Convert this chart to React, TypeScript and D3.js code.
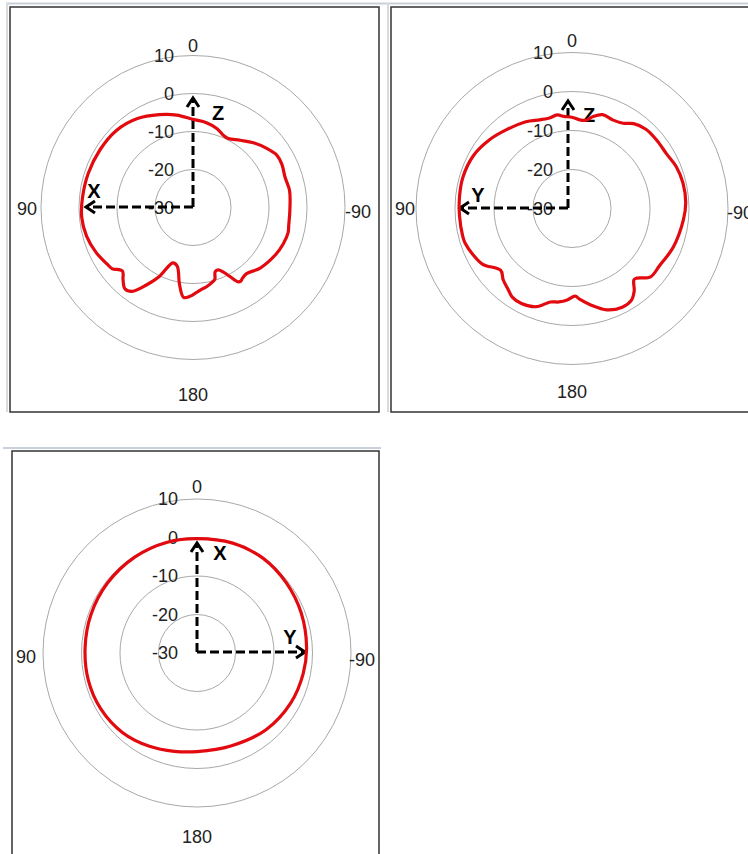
import React from 'react';
import * as d3 from 'd3';

// ---- data ----
const ringTicks = [-30, -20, -10, 0, 10];
const angleLabels = ['0', '90', '180', '-90'];

// Panel 1: XZ plane (angle deg, counter-clockwise from top; gain dB)
const anglesXZ = [0, 10, 20, 32, 45, 58, 72, 85, 95, 105, 115, 124, 127, 132, 136, 140, 144, 149, 154, 160, 165, 170, 174, 178, 185, 190, 195, 197, 199, 202, 205, 208, 211, 213, 215, 219, 228, 240, 248, 255, 260, 268, 280, 288, 296, 302, 309, 317, 325, 333, 337, 343, 351];
const gainXZ = [-6.8, -5.3, -4.0, -2.4, -1.4, -1.2, -1.0, -0.8, -0.6, -1.0, -1.9, -3.0, -3.3, -5.0, -3.5, -2.1, -2.7, -6.2, -9.8, -14.5, -14.0, -9.5, -6.2, -6.6, -8.2, -8.9, -9.8, -10.3, -12.1, -12.3, -11.3, -9.5, -7.2, -6.9, -7.3, -7.6, -6.2, -5.0, -4.4, -4.1, -4.4, -4.5, -4.2, -4.5, -4.0, -4.0, -5.2, -6.7, -8.4, -9.6, -9.4, -8.3, -7.4];

// Panel 2: YZ plane
const anglesYZ = [0, 5, 9, 14, 20, 28, 40, 50, 62, 74, 84, 94, 104, 108, 115, 122, 131, 136, 142, 146, 152, 160, 167, 172, 177, 182, 185, 191, 199, 207, 213, 217, 221, 223, 229, 237, 249, 264, 273, 283, 292, 300, 309, 317, 324, 329, 335, 342, 347, 351, 355];
const gainYZ = [-6.6, -6.3, -5.7, -6.1, -5.8, -4.8, -3.7, -2.5, -1.3, -0.9, -1.0, -1.1, -1.1, -1.2, -2.0, -3.0, -5.8, -4.6, -3.5, -2.6, -2.4, -3.2, -5.4, -5.8, -6.5, -7.5, -6.6, -4.8, -2.5, -1.6, -2.0, -3.5, -5.8, -5.6, -3.3, -3.2, -2.2, -1.3, -0.8, -0.8, -1.2, -2.0, -2.1, -2.2, -3.1, -4.5, -5.0, -4.7, -5.8, -7.1, -7.2];

// Panel 3: XY plane
const anglesXY = [0, 15, 33, 52, 70, 87, 104, 120, 137, 153, 167, 180, 200, 222, 242, 259, 273, 291, 308, 325, 342];
const gainXY = [-0.3, -0.2, -0.3, -0.5, -0.7, -0.9, -0.9, -1.1, -1.7, -2.8, -3.8, -4.4, -4.3, -3.2, -2.4, -1.9, -1.5, -1.0, -0.5, 0.0, 0.0];

const FONT = "'Liberation Sans', Arial, sans-serif";
const RED = '#e20a0f';

type Arrow = { x1: number; y1: number; x2: number; y2: number };
type Lbl = { text: string; x: number; y: number };

type PanelProps = {
  cx: number;
  cy: number;
  pxPerDb: number;
  angles: number[];
  gains: number[];
  lab: { top: number; left: number; right: number; bottom: number; ldy: number; rdy: number };
  arrows: Arrow[];
  axisLabels: Lbl[];
};

function ArrowMark({ a }: { a: Arrow }) {
  const dx = a.x2 - a.x1;
  const dy = a.y2 - a.y1;
  const len = Math.hypot(dx, dy);
  const ux = dx / len;
  const uy = dy / len;
  const px = -uy;
  const py = ux;
  const back = 9;
  const half = 6;
  const bx = a.x2 - ux * back;
  const by = a.y2 - uy * back;
  return (
    <g>
      <line x1={a.x1} y1={a.y1} x2={a.x2 - ux * 2} y2={a.y2 - uy * 2} stroke="#000" strokeWidth={3} strokeDasharray="9,4" />
      <polyline
        points={`${bx + px * half},${by + py * half} ${a.x2},${a.y2} ${bx - px * half},${by - py * half}`}
        fill="none"
        stroke="#000"
        strokeWidth={3}
        strokeLinejoin="miter"
      />
    </g>
  );
}

function Panel({ cx, cy, pxPerDb, angles, gains, lab, arrows, axisLabels }: PanelProps) {
  const r = d3.scaleLinear().domain([-30, 10]).range([0, 40 * pxPerDb]);
  const pts: [number, number][] = angles.map((a, i) => [a, gains[i]]);
  const line = d3
    .lineRadial<[number, number]>()
    .angle((d) => (-d[0] * Math.PI) / 180)
    .radius((d) => r(d[1]))
    .curve(d3.curveCatmullRomClosed.alpha(0.5));
  const pos = [
    { x: cx, y: cy + lab.top },
    { x: cx + lab.left, y: cy + lab.ldy },
    { x: cx, y: cy + lab.bottom },
    { x: cx + lab.right, y: cy + lab.rdy },
  ];
  return (
    <g>
      {ringTicks.filter((v) => v > -30).map((v) => (
        <circle key={v} cx={cx} cy={cy} r={r(v)} fill="none" stroke="#a8a8a8" strokeWidth={1} />
      ))}
      {ringTicks.map((v) => (
        <text key={'t' + v} x={cx - 19} y={cy - r(v)} textAnchor="end" dominantBaseline="central" fontFamily={FONT} fontSize={18} fill="#222">
          {v}
        </text>
      ))}
      {angleLabels.map((t, i) => (
        <text key={'a' + t} x={pos[i].x} y={pos[i].y} textAnchor="middle" dominantBaseline="central" fontFamily={FONT} fontSize={18} fill="#222">
          {t}
        </text>
      ))}
      {arrows.map((a, i) => (
        <ArrowMark key={i} a={a} />
      ))}
      {axisLabels.map((l) => (
        <text key={l.text} x={l.x} y={l.y} textAnchor="middle" dominantBaseline="central" fontFamily={FONT} fontSize={20} fontWeight="bold" fill="#000">
          {l.text}
        </text>
      ))}
      <path d={line(pts) || ''} transform={`translate(${cx},${cy})`} fill="none" stroke={RED} strokeWidth={3.2} strokeLinejoin="round" />
    </g>
  );
}

export default function App() {
  return (
    <svg width={748} height={854} style={{ position: 'absolute', left: 0, top: 0, background: '#fff' }}>
      {/* light separators */}
      <line x1={6} y1={3.5} x2={748} y2={3.5} stroke="#c9d0d8" strokeWidth={2} />
      <line x1={7} y1={3} x2={7} y2={412} stroke="#d6dbe0" strokeWidth={2} />
      <line x1={388} y1={3} x2={388} y2={412} stroke="#d6dbe0" strokeWidth={2} />
      <line x1={3} y1={448} x2={381} y2={448} stroke="#c9d0d8" strokeWidth={2} />
      {/* frames */}
      <rect x={10} y={7} width={369} height={405} fill="none" stroke="#333" strokeWidth={1.5} />
      <rect x={391} y={7} width={370} height={405} fill="none" stroke="#333" strokeWidth={1.5} />
      <rect x={12} y={451} width={367} height={420} fill="none" stroke="#333" strokeWidth={1.5} />

      <Panel
        cx={193}
        cy={207.5}
        pxPerDb={3.8}
        angles={anglesXZ}
        gains={gainXZ}
        lab={{ top: -162, left: -166, right: 165, bottom: 187, ldy: 1.5, rdy: 4.5 }}
        arrows={[
          { x1: 193, y1: 207, x2: 193, y2: 98 },
          { x1: 193, y1: 207, x2: 86, y2: 207 },
        ]}
        axisLabels={[
          { text: 'Z', x: 218, y: 113 },
          { text: 'X', x: 94, y: 191 },
        ]}
      />
      <Panel
        cx={572}
        cy={208.5}
        pxPerDb={3.9}
        angles={anglesYZ}
        gains={gainYZ}
        lab={{ top: -168, left: -167, right: 168, bottom: 183, ldy: 0.5, rdy: 4.5 }}
        arrows={[
          { x1: 568, y1: 208, x2: 568, y2: 101 },
          { x1: 568, y1: 208, x2: 460, y2: 208 },
        ]}
        axisLabels={[
          { text: 'Z', x: 589, y: 115 },
          { text: 'Y', x: 478, y: 195 },
        ]}
      />
      <Panel
        cx={197}
        cy={653}
        pxPerDb={3.85}
        angles={anglesXY}
        gains={gainXY}
        lab={{ top: -166, left: -171, right: 165, bottom: 184, ldy: 3.7, rdy: 7 }}
        arrows={[
          { x1: 197, y1: 652, x2: 197, y2: 543 },
          { x1: 197, y1: 652, x2: 305, y2: 652 },
        ]}
        axisLabels={[
          { text: 'X', x: 220, y: 553 },
          { text: 'Y', x: 290, y: 637 },
        ]}
      />
    </svg>
  );
}
